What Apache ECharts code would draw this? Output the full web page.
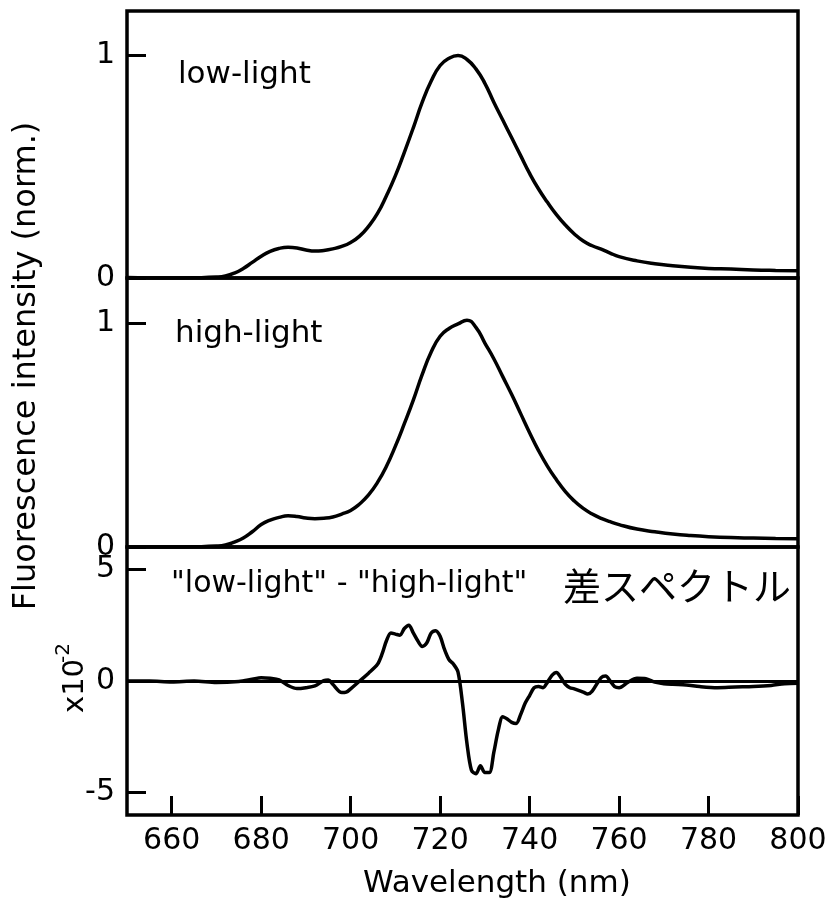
<!DOCTYPE html>
<html>
<head>
<meta charset="utf-8">
<script src="https://cdn.jsdelivr.net/npm/echarts@6/dist/echarts.min.js"></script>
<style>
  html, body { margin: 0; padding: 0; background: #fff; }
  #chart { width: 838px; height: 904px; }
</style>
</head>
<body>
<div id="chart"></div>
<script>
// wavelengths (nm) for the two normalized spectra
const wavelengths = [650, 655, 660, 665, 670, 672, 674, 676, 678, 680, 682, 684, 686, 688, 690, 692, 694, 696, 698,
  700, 702, 704, 706, 708, 710, 712, 714, 716, 718, 720, 722, 724, 726, 728, 730, 732, 734, 736, 738,
  740, 742, 744, 746, 748, 750, 752, 754, 756, 758, 760, 764, 768, 772, 776, 780, 785, 790, 795, 800];

const lowLight = [0.002, 0.0, 0.0, 0.001, 0.004, 0.009, 0.022, 0.043, 0.07, 0.098, 0.12, 0.133, 0.138, 0.135, 0.126, 0.121, 0.124, 0.131, 0.142,
  0.16, 0.188, 0.232, 0.29, 0.37, 0.46, 0.565, 0.675, 0.79, 0.885, 0.955, 0.988, 1.0, 0.982, 0.94, 0.875, 0.79, 0.71, 0.63, 0.55,
  0.47, 0.40, 0.34, 0.285, 0.238, 0.198, 0.166, 0.145, 0.13, 0.112, 0.096, 0.077, 0.064, 0.055, 0.048, 0.043, 0.04, 0.036, 0.034, 0.033];

const highLight = [0.0, 0.0, 0.0, 0.001, 0.004, 0.009, 0.022, 0.04, 0.068, 0.1, 0.12, 0.132, 0.139, 0.136, 0.129, 0.126, 0.128, 0.134, 0.147,
  0.163, 0.192, 0.232, 0.288, 0.36, 0.45, 0.55, 0.655, 0.77, 0.87, 0.94, 0.975, 0.995, 1.012, 0.98, 0.91, 0.84, 0.76, 0.68, 0.595,
  0.51, 0.43, 0.36, 0.30, 0.247, 0.205, 0.172, 0.147, 0.128, 0.113, 0.1, 0.08, 0.068, 0.058, 0.051, 0.046, 0.042, 0.04, 0.038, 0.037];

// difference spectrum, units of 1e-2
const diffWavelengths = [650, 655, 660, 665, 670, 675, 678, 680, 682, 684, 686, 688, 690, 692, 694, 695, 696, 698, 699,
  700, 702, 704, 706, 707, 708, 709, 710, 711, 712, 713, 714, 715, 716, 717, 718, 719, 720, 721, 722, 723, 724, 725,
  726, 727, 728, 729, 730, 731, 732, 733, 734, 735, 736, 737, 738, 739, 740, 741, 742, 743, 744, 745, 746, 747, 748,
  749, 750, 752, 753, 754, 756, 757, 758, 759, 760, 762, 764, 766, 768, 770, 772, 775, 778, 782, 786, 790, 794, 797, 800];

const diffValues = [0.0, 0.0, -0.04, 0.0, -0.07, -0.02, 0.08, 0.15, 0.12, 0.05, -0.2, -0.34, -0.3, -0.22, 0.02, 0.05, -0.15, -0.52, -0.5,
  -0.35, 0.0, 0.35, 0.75, 1.2, 1.8, 2.15, 2.1, 2.05, 2.35, 2.5, 2.15, 1.8, 1.55, 1.7, 2.15, 2.25, 2.0, 1.4, 0.95, 0.75, 0.4, -1.0,
  -2.8, -4.0, -4.15, -3.8, -4.1, -4.1, -3.2, -2.2, -1.6, -1.7, -1.85, -1.9, -1.5, -1.0, -0.65, -0.3, -0.25, -0.3, -0.05, 0.25, 0.38, 0.15, -0.15,
  -0.3, -0.35, -0.5, -0.58, -0.45, 0.15, 0.22, 0.0, -0.25, -0.3, -0.05, 0.12, 0.1, -0.05, -0.12, -0.15, -0.18, -0.25, -0.3, -0.27, -0.25, -0.2, -0.12, -0.1];

const xTicks = [660, 680, 700, 720, 740, 760, 780, 800];
const intensityTicks = [0, 1];
const diffTicks = [-5, 0, 5];

const FONT = 'DejaVu Sans';

function zip(xs, ys) {
  return xs.map((x, i) => [x, ys[i]]);
}

function yAxisFor(idx, min, max, ticks) {
  return {
    type: 'value',
    gridIndex: idx,
    min: min,
    max: max,
    axisLine: { show: false },
    splitLine: { show: false },
    axisTick: { inside: true, length: 19, customValues: ticks, lineStyle: { color: '#000', width: 3 } },
    axisLabel: { customValues: ticks, color: '#000', fontSize: 30, fontFamily: FONT, margin: 12 }
  };
}

function lineSeries(idx, data, smooth) {
  return {
    type: 'line',
    xAxisIndex: idx,
    yAxisIndex: idx,
    data: data,
    showSymbol: false,
    smooth: smooth,
    lineStyle: { color: '#000', width: 3.5 },
    itemStyle: { color: '#000' }
  };
}

const chart = echarts.init(document.getElementById('chart'));

const diffSeries = lineSeries(2, zip(diffWavelengths, diffValues), 0.3);
diffSeries.markLine = {
  silent: true,
  symbol: 'none',
  label: { show: false },
  lineStyle: { color: '#000', width: 3, type: 'solid' },
  data: [{ yAxis: 0 }]
};

const option = {
  animation: false,
  backgroundColor: '#fff',
  grid: [
    { left: 127, right: 40, top: 11, height: 267, show: true, borderColor: '#000', borderWidth: 3.5 },
    { left: 127, right: 40, top: 278, height: 269, show: true, borderColor: '#000', borderWidth: 3.5 },
    { left: 127, right: 40, top: 547, height: 268, show: true, borderColor: '#000', borderWidth: 3.5 }
  ],
  xAxis: [
    { type: 'value', gridIndex: 0, min: 650, max: 800, show: false },
    { type: 'value', gridIndex: 1, min: 650, max: 800, show: false },
    {
      type: 'value', gridIndex: 2, min: 650, max: 800, position: 'bottom',
      axisLine: { show: false, onZero: false },
      splitLine: { show: false },
      axisTick: { inside: true, length: 19, customValues: xTicks, lineStyle: { color: '#000', width: 3 } },
      axisLabel: { customValues: xTicks, color: '#000', fontSize: 30, fontFamily: FONT, margin: 11 }
    }
  ],
  yAxis: [
    yAxisFor(0, 0, 1.2, intensityTicks),
    yAxisFor(1, 0, 1.2, intensityTicks),
    yAxisFor(2, -6, 6, diffTicks)
  ],
  series: [
    lineSeries(0, zip(wavelengths, lowLight), 0.5),
    lineSeries(1, zip(wavelengths, highLight), 0.5),
    diffSeries
  ],
  graphic: [
    { type: 'text', x: 178, y: 75, style: { text: 'low-light', fontSize: 31, fontFamily: FONT, fill: '#000', align: 'left', verticalAlign: 'middle' } },
    { type: 'text', x: 175, y: 334, style: { text: 'high-light', fontSize: 31, fontFamily: FONT, fill: '#000', align: 'left', verticalAlign: 'middle' } },
    { type: 'text', x: 171, y: 584, style: { text: '"low-light" - "high-light"', fontSize: 30, fontFamily: FONT, fill: '#000', align: 'left', verticalAlign: 'middle' } },
    { type: 'text', x: 563, y: 586, style: { text: '差スペクトル', fontSize: 38, fontFamily: 'Noto Sans CJK JP', fill: '#000', align: 'left', verticalAlign: 'middle' } },
    { type: 'text', x: 363, y: 884, style: { text: 'Wavelength (nm)', fontSize: 31, fontFamily: FONT, fill: '#000', align: 'left', verticalAlign: 'middle' } },
    { type: 'text', x: 27, y: 366, rotation: Math.PI / 2, style: { text: 'Fluorescence intensity (norm.)', fontSize: 32, fontFamily: FONT, fill: '#000', align: 'center', verticalAlign: 'middle' } },
    {
      type: 'group', x: 75, y: 713, rotation: Math.PI / 2,
      children: [
        { type: 'text', x: 0, y: 0, style: { text: 'x10', fontSize: 29, fontFamily: FONT, fill: '#000', align: 'left', verticalAlign: 'middle' } },
        { type: 'text', x: 50, y: -11, style: { text: '-2', fontSize: 20, fontFamily: FONT, fill: '#000', align: 'left', verticalAlign: 'middle' } }
      ]
    }
  ]
};

chart.setOption(option);
</script>
</body>
</html>
